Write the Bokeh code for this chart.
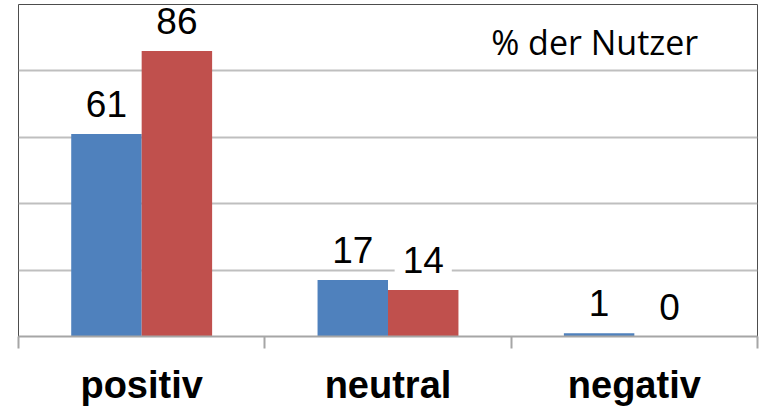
from bokeh.plotting import figure
from bokeh.models import Range1d, FixedTicker, ColumnDataSource, Label
from bokeh.core.properties import value
from bokeh.embed import file_html
from bokeh.resources import INLINE

categories = ["positiv", "neutral", "negativ"]
series_blue = [61, 17, 1]
series_red = [86, 14, 0]
unit_note = "% der Nutzer"

BLUE = "#4F81BD"
RED = "#C0504D"
OFF = 0.143
BW = 0.286

centers = [i + 0.5 for i in range(len(categories))]
bounds = [float(i) for i in range(len(categories) + 1)]

src_b = ColumnDataSource(dict(x=[c - OFF for c in centers], top=series_blue,
                              lab=[str(v) for v in series_blue]))
src_r = ColumnDataSource(dict(x=[c + OFF for c in centers], top=series_red,
                              lab=[str(v) for v in series_red]))

p = figure(width=763, height=408, output_backend="svg", toolbar_location=None,
           x_range=Range1d(0, 3), y_range=Range1d(0, 100),
           min_border_left=18, min_border_right=6, min_border_top=4, min_border_bottom=71)

p.background_fill_color = "white"
p.border_fill_color = "white"
p.outline_line_color = "#4D4D4D"
p.outline_line_width = 1

p.vbar(x="x", top="top", width=BW, source=src_b, fill_color=BLUE, line_color=None)
p.vbar(x="x", top="top", width=BW, source=src_r, fill_color=RED, line_color=None)

# grid
p.xgrid.visible = False
p.ygrid.ticker = FixedTicker(ticks=[20, 40, 60, 80])
p.ygrid.grid_line_color = "#BFBFBF"
p.ygrid.grid_line_width = 2
p.yaxis.visible = False

# x axis: labels at category centres, ticks at category boundaries
ax = p.xaxis[0]
ax.ticker = FixedTicker(ticks=centers, minor_ticks=bounds)
ax.major_label_overrides = {c: name for c, name in zip(centers, categories)}
ax.major_label_text_font = "Liberation Sans"
ax.major_label_text_font_size = "38px"
ax.major_label_text_font_style = "bold"
ax.major_label_text_color = "black"
ax.major_label_standoff = 15
ax.major_tick_out = 0
ax.major_tick_in = 0
ax.minor_tick_out = 12
ax.minor_tick_in = 0
ax.minor_tick_line_color = "#A6A6A6"
ax.minor_tick_line_width = 2
ax.axis_line_color = "#A6A6A6"
ax.axis_line_width = 2

for src in (src_b, src_r):
    p.text(x="x", y="top", text="lab", source=src,
           text_font=value("Liberation Sans"), text_font_size="37px",
           text_color="black", text_align="center", text_baseline="alphabetic",
           y_offset=-30, background_fill_color="white",
           padding=dict(left=8, right=8, top=2, bottom=2))

note = Label(x=2.339, y=88.6, text=unit_note, text_font="Open Sans",
             text_font_size="34px", text_color="black", text_align="center",
             text_baseline="alphabetic")
p.add_layout(note)

open("out.html", "w").write(file_html(p, INLINE))
